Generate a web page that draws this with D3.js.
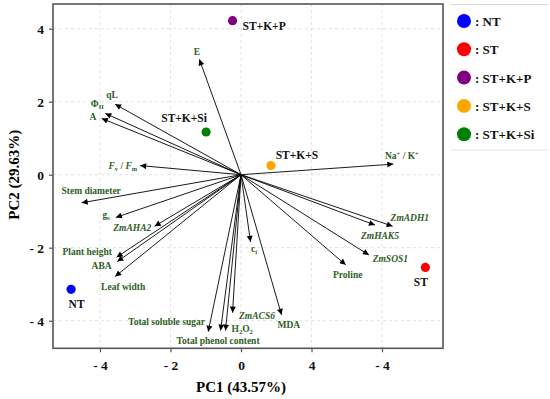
<!DOCTYPE html>
<html>
<head>
<meta charset="utf-8">
<script src="https://cdn.jsdelivr.net/npm/d3@7"></script>
<style>
  body { margin: 0; background: #fff; }
  text { font-family: "Liberation Serif", "Times New Roman", serif; font-weight: bold; }
</style>
</head>
<body>
<div id="chart"></div>
<script>
var width = 550,
    height = 399;

// sample scores
var groups = ["NT", "ST", "ST+K+P", "ST+K+S", "ST+K+Si"];
var groupPC1 = [-4.82, 5.23, -0.24, 0.85, -0.99];
var groupPC2 = [-3.14, -2.54, 4.22, 0.25, 1.17];
var groupColors = ["#0000ff", "#ff0000", "#800080", "#ffa500", "#008000"];

// variable loadings
var variables = ["E", "qL", "PhiII", "A", "FvFm", "Stem diameter", "gs", "ZmAHA2",
    "Plant height", "ABA", "Leaf width", "Total soluble sugar", "Total phenol content",
    "H2O2", "ZmACS6", "ci", "MDA", "Proline", "ZmSOS1", "ZmHAK5", "ZmADH1", "NaK"];
var loadPC1 = [-1.18, -3.57, -3.85, -3.95, -2.86, -4.52, -3.55, -2.45,
    -3.53, -3.51, -3.57, -0.93, -0.58, -0.44, -0.24, 0.27, 1.15, 2.97, 3.63, 3.80, 4.30, 4.32];
var loadPC2 = [3.16, 1.93, 1.68, 1.54, 0.25, -0.77, -1.17, -1.41,
    -2.26, -2.38, -2.79, -4.30, -4.27, -4.27, -3.78, -1.84, -3.84, -2.47, -2.20, -1.38, -1.41, 0.29];

// axis ticks
var xTicks = [-4, -2, 0, 2, 4];
var xTickLabels = ["- 4", "- 2", "0", "4", "- 4"];
var yTicks = [4, 2, 0, -2, -4];
var yTickLabels = ["4", "2", "0", "- 2", "- 4"];

// label placement relative to arrow tip / point: [dx, dy, anchor]
var varLabelPos = {
  "E": [-2.6, -4, "middle"], "qL": [-3, -6, "middle"], "PhiII": [-8, -6, "middle"],
  "A": [-5.5, 2, "end"], "FvFm": [-3, 3, "end"], "Stem diameter": [9.5, -8.5, "middle"],
  "gs": [-6, 1, "end"], "ZmAHA2": [-3.3, 5, "end"], "Plant height": [-4.7, -2, "end"],
  "ABA": [-5.6, 7, "end"], "Leaf width": [8, 13.5, "middle"],
  "Total soluble sugar": [-3.3, -6.5, "end"], "Total phenol content": [-2.5, 13.5, "middle"],
  "H2O2": [6, 1.5, "start"], "ZmACS6": [6.5, 6, "start"], "ci": [3.5, 10, "middle"],
  "MDA": [7.3, 13.5, "middle"], "Proline": [2, 13.5, "middle"], "ZmSOS1": [3.7, 6.5, "start"],
  "ZmHAK5": [5, 13.5, "middle"], "ZmADH1": [-2, -5, "start"], "NaK": [-8.3, -5.5, "start"]
};
var groupLabelPos = {
  "NT": [5.5, 19, "middle"], "ST": [-4.6, 19, "middle"], "ST+K+P": [10, 9, "start"],
  "ST+K+S": [26, -7, "middle"], "ST+K+Si": [-22, -10.5, "middle"]
};

var plotLeft = 53, plotRight = 443, plotTop = 4, plotBottom = 348.3;

var x = d3.scaleLinear().domain([-5.333, 5.73]).range([plotLeft, plotRight]);
var y = d3.scaleLinear().domain([-4.756, 4.677]).range([plotBottom, plotTop]);

var svg = d3.select("#chart").append("svg")
    .attr("width", width)
    .attr("height", height);

var green = "#2e5e1e";

svg.append("defs").append("marker")
    .attr("id", "arrow")
    .attr("viewBox", "0 0 10 10")
    .attr("refX", 10).attr("refY", 5)
    .attr("markerUnits", "userSpaceOnUse")
    .attr("markerWidth", 7).attr("markerHeight", 6)
    .attr("orient", "auto")
  .append("path")
    .attr("d", "M0,0 L10,5 L0,10 z")
    .attr("fill", "#000");

// grid
svg.append("g").selectAll("line").data(xTicks).enter().append("line")
    .attr("x1", function(d) { return x(d); }).attr("x2", function(d) { return x(d); })
    .attr("y1", plotTop).attr("y2", plotBottom)
    .attr("stroke", "#e2e2e2").attr("stroke-dasharray", "3,3");
svg.append("g").selectAll("line").data(yTicks).enter().append("line")
    .attr("y1", function(d) { return y(d); }).attr("y2", function(d) { return y(d); })
    .attr("x1", plotLeft).attr("x2", plotRight)
    .attr("stroke", "#e2e2e2").attr("stroke-dasharray", "3,3");

// axes
var xAxis = d3.axisBottom(x).tickValues(xTicks).tickSizeInner(4).tickSizeOuter(0)
    .tickFormat(function(d, i) { return xTickLabels[i]; });
var yAxis = d3.axisLeft(y).tickValues(yTicks).tickSizeInner(4).tickSizeOuter(0)
    .tickFormat(function(d, i) { return yTickLabels[i]; });

var gx = svg.append("g").attr("transform", "translate(0," + plotBottom + ")").call(xAxis);
var gy = svg.append("g").attr("transform", "translate(" + plotLeft + ",0)").call(yAxis);
[gx, gy].forEach(function(g) {
  g.select(".domain").remove();
  g.selectAll(".tick line").attr("stroke", "#555").attr("stroke-width", 1.2);
  g.selectAll(".tick text").attr("fill", "#111")
      .style("font-family", "'Liberation Serif', serif").style("font-weight", "bold")
      .style("font-size", "13.5px");
});
gx.selectAll(".tick text").attr("dy", "1.1em");
gy.selectAll(".tick text").attr("x", -9);

svg.append("rect")
    .attr("x", plotLeft).attr("y", plotTop)
    .attr("width", plotRight - plotLeft).attr("height", plotBottom - plotTop)
    .attr("fill", "none").attr("stroke", "#555").attr("stroke-width", 1.6);

// axis titles
svg.append("text")
    .attr("x", x(0)).attr("y", 392)
    .attr("text-anchor", "middle")
    .style("font-size", "15px")
    .text("PC1 (43.57%)");
svg.append("text")
    .attr("transform", "translate(19," + y(0) + ") rotate(-90)")
    .attr("text-anchor", "middle")
    .style("font-size", "15px")
    .text("PC2 (29.63%)");

// loading arrows
var vars = variables.map(function(name, i) {
  return { name: name, px: loadPC1[i], py: loadPC2[i] };
});

svg.append("g").selectAll("line").data(vars).enter().append("line")
    .attr("x1", x(0)).attr("y1", y(0))
    .attr("x2", function(d) { return x(d.px); })
    .attr("y2", function(d) { return y(d.py); })
    .attr("stroke", "#000").attr("stroke-width", 0.9)
    .attr("marker-end", "url(#arrow)");

// append a run of text; shift = vertical offset from the baseline (positive = down)
function run(t, s, shift, prev, small, italic) {
  var sp = t.append("tspan").text(s);
  if (shift - prev != 0) sp.attr("dy", shift - prev);
  if (small) sp.style("font-size", "6.5px");
  if (italic) sp.style("font-style", "italic");
  return shift;
}

var labels = svg.append("g").selectAll("text").data(vars).enter().append("text")
    .attr("x", function(d) { return x(d.px) + varLabelPos[d.name][0]; })
    .attr("y", function(d) { return y(d.py) + varLabelPos[d.name][1]; })
    .attr("text-anchor", function(d) { return varLabelPos[d.name][2]; })
    .attr("fill", green)
    .style("font-size", "9.5px");

labels.each(function(d) {
  var t = d3.select(this);
  if (d.name == "PhiII") { run(t, "Φ", 0, 0); run(t, "II", 2, 0, true); }
  else if (d.name == "FvFm") {
    run(t, "F", 0, 0, false, true);
    run(t, "v", 2, 0, true);
    run(t, " / ", 0, 2);
    run(t, "F", 0, 0, false, true);
    run(t, "m", 2, 0, true);
  }
  else if (d.name == "gs") { run(t, "g", 0, 0); run(t, "s", 2, 0, true); }
  else if (d.name == "ci") { run(t, "c", 0, 0); run(t, "i", 2, 0, true); }
  else if (d.name == "H2O2") {
    run(t, "H", 0, 0); run(t, "2", 2, 0, true); run(t, "O", 0, 2); run(t, "2", 2, 0, true);
  }
  else if (d.name == "NaK") {
    run(t, "Na", 0, 0); run(t, "+", -3, 0, true); run(t, " / K", 0, -3); run(t, "+", -3, 0, true);
  }
  else if (d.name.indexOf("Zm") == 0) { t.style("font-style", "italic").text(d.name); }
  else { t.text(d.name); }
});

// sample points
var pts = groups.map(function(g, i) {
  return { name: g, px: groupPC1[i], py: groupPC2[i], color: groupColors[i] };
});

svg.append("g").selectAll("circle").data(pts).enter().append("circle")
    .attr("cx", function(d) { return x(d.px); })
    .attr("cy", function(d) { return y(d.py); })
    .attr("r", 4.6)
    .attr("fill", function(d) { return d.color; });

svg.append("g").selectAll("text").data(pts).enter().append("text")
    .attr("x", function(d) { return x(d.px) + groupLabelPos[d.name][0]; })
    .attr("y", function(d) { return y(d.py) + groupLabelPos[d.name][1]; })
    .attr("text-anchor", function(d) { return groupLabelPos[d.name][2]; })
    .attr("fill", "#111")
    .style("font-size", "11.5px")
    .text(function(d) { return d.name; });

// legend
var legend = svg.append("g");
legend.append("line").attr("x1", 451).attr("x2", 548).attr("y1", 4.5).attr("y2", 4.5)
    .attr("stroke", "#d8d8d8").attr("stroke-width", 1.2);
legend.append("line").attr("x1", 451).attr("x2", 548).attr("y1", 150).attr("y2", 150)
    .attr("stroke", "#e4e4e4").attr("stroke-width", 1);

var items = legend.selectAll("g.item").data(pts).enter().append("g")
    .attr("class", "item")
    .attr("transform", function(d, i) { return "translate(464," + (21 + i * 28.3) + ")"; });
items.append("circle").attr("r", 7).attr("fill", function(d) { return d.color; });
items.append("text").attr("x", 11).attr("y", 5)
    .attr("fill", "#111")
    .style("font-size", "13px")
    .text(function(d) { return ": " + d.name; });
</script>
</body>
</html>
